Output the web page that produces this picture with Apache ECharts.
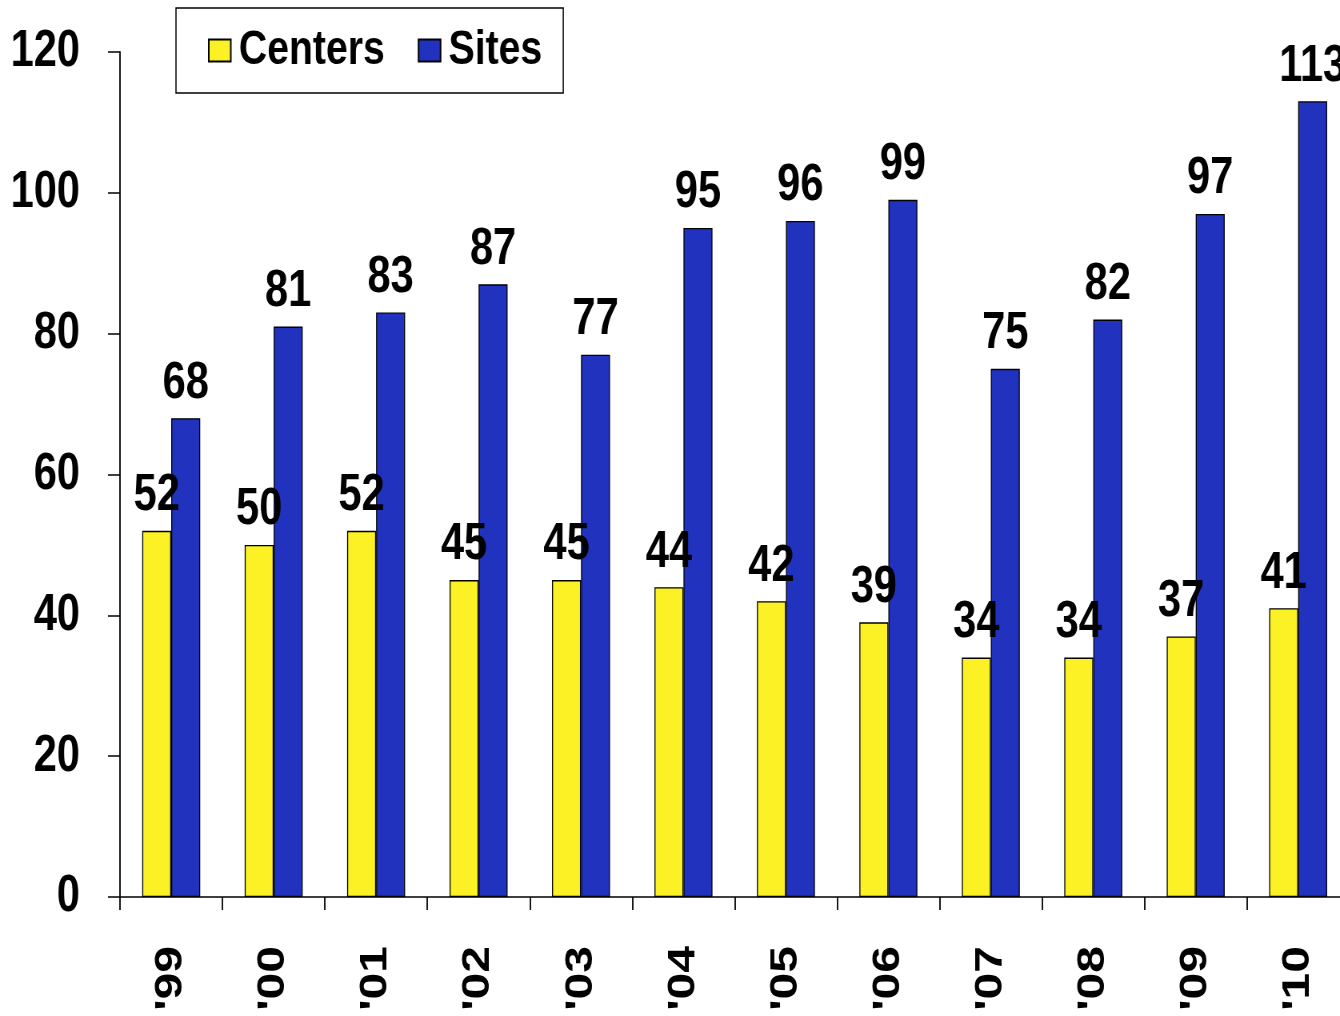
<!DOCTYPE html>
<html>
<head>
<meta charset="utf-8">
<script src="https://cdn.jsdelivr.net/npm/echarts@6/dist/echarts.min.js"></script>
<style>
html,body{margin:0;padding:0;background:#fff;overflow:hidden;width:1340px;height:1016px;}
#wrap{width:1340px;height:1016px;overflow:hidden;position:relative;}
#chart{width:1675px;height:1016px;transform:scaleX(0.8);transform-origin:0 0;position:absolute;left:0;top:0;}
</style>
</head>
<body>
<div id="wrap"><div id="chart"></div></div>
<script>
const categories = ["'99","'00","'01","'02","'03","'04","'05","'06","'07","'08","'09","'10"];
const centers = [52, 50, 52, 45, 45, 44, 42, 39, 34, 34, 37, 41];
const sites = [68, 81, 83, 87, 77, 95, 96, 99, 75, 82, 97, 113];
const yTicks = [0, 20, 40, 60, 80, 100, 120];

// Chart is drawn in a horizontally stretched space and squeezed by CSS (scaleX 0.8)
// to mimic a narrow bold typeface; horizontal sizes below are divided by SX.
const SX = 0.8;
const FONT = '"Liberation Sans", Arial, sans-serif';
const chart = echarts.init(document.getElementById('chart'), null, {renderer: 'canvas'});
const labelStyle = {
  show: true, position: 'top', distance: 9,
  color: '#000', fontFamily: FONT, fontWeight: 'bold', fontSize: 52
};
chart.setOption({
  animation: false,
  backgroundColor: '#fff',
  grid: {left: 120 / SX, top: 52, bottom: 119, right: -9.4 / SX, containLabel: false, outerBoundsMode: 'none'},
  legend: {
    left: 176 / SX, top: 8,
    padding: [18, 21 / SX, 18, 32 / SX],
    backgroundColor: '#fff',
    borderColor: '#000', borderWidth: 1.5,
    itemWidth: 22 / SX, itemHeight: 22, itemGap: 33 / SX,
    icon: 'rect',
    textStyle: {fontFamily: FONT, fontWeight: 'bold', fontSize: 49, color: '#000', padding: [0, 0, 0, 8 / SX - 5]},
    data: ['Centers', 'Sites']
  },
  xAxis: {
    type: 'category',
    data: categories,
    axisLine: {lineStyle: {color: '#000', width: 1.5}},
    axisTick: {show: true, length: 13, lineStyle: {color: '#000', width: 1.8}},
    axisLabel: {rotate: 90, margin: 49, color: '#000', fontFamily: FONT, fontWeight: 'bold', fontSize: 48}
  },
  yAxis: {
    type: 'value', min: 0, max: 120, interval: 20,
    splitLine: {show: false},
    axisLine: {show: true, lineStyle: {color: '#000', width: 1.8}},
    axisTick: {show: true, length: 12 / SX, lineStyle: {color: '#000', width: 1.5}},
    axisLabel: {margin: 40 / SX, color: '#000', fontFamily: FONT, fontWeight: 'bold', fontSize: 52,
      padding: [8, 0, 0, 0],
      formatter: v => yTicks.includes(v) ? String(v) : ''}
  },
  series: [
    {name: 'Centers', type: 'bar', data: centers, barWidth: 29 / SX, barGap: '0%',
     itemStyle: {color: '#FBF124', borderColor: '#000', borderWidth: 1.3},
     label: labelStyle},
    {name: 'Sites', type: 'bar', data: sites, barWidth: 29 / SX, barGap: '0%',
     itemStyle: {color: '#2133BE', borderColor: '#000', borderWidth: 1.3},
     label: labelStyle}
  ]
});
</script>
</body>
</html>
